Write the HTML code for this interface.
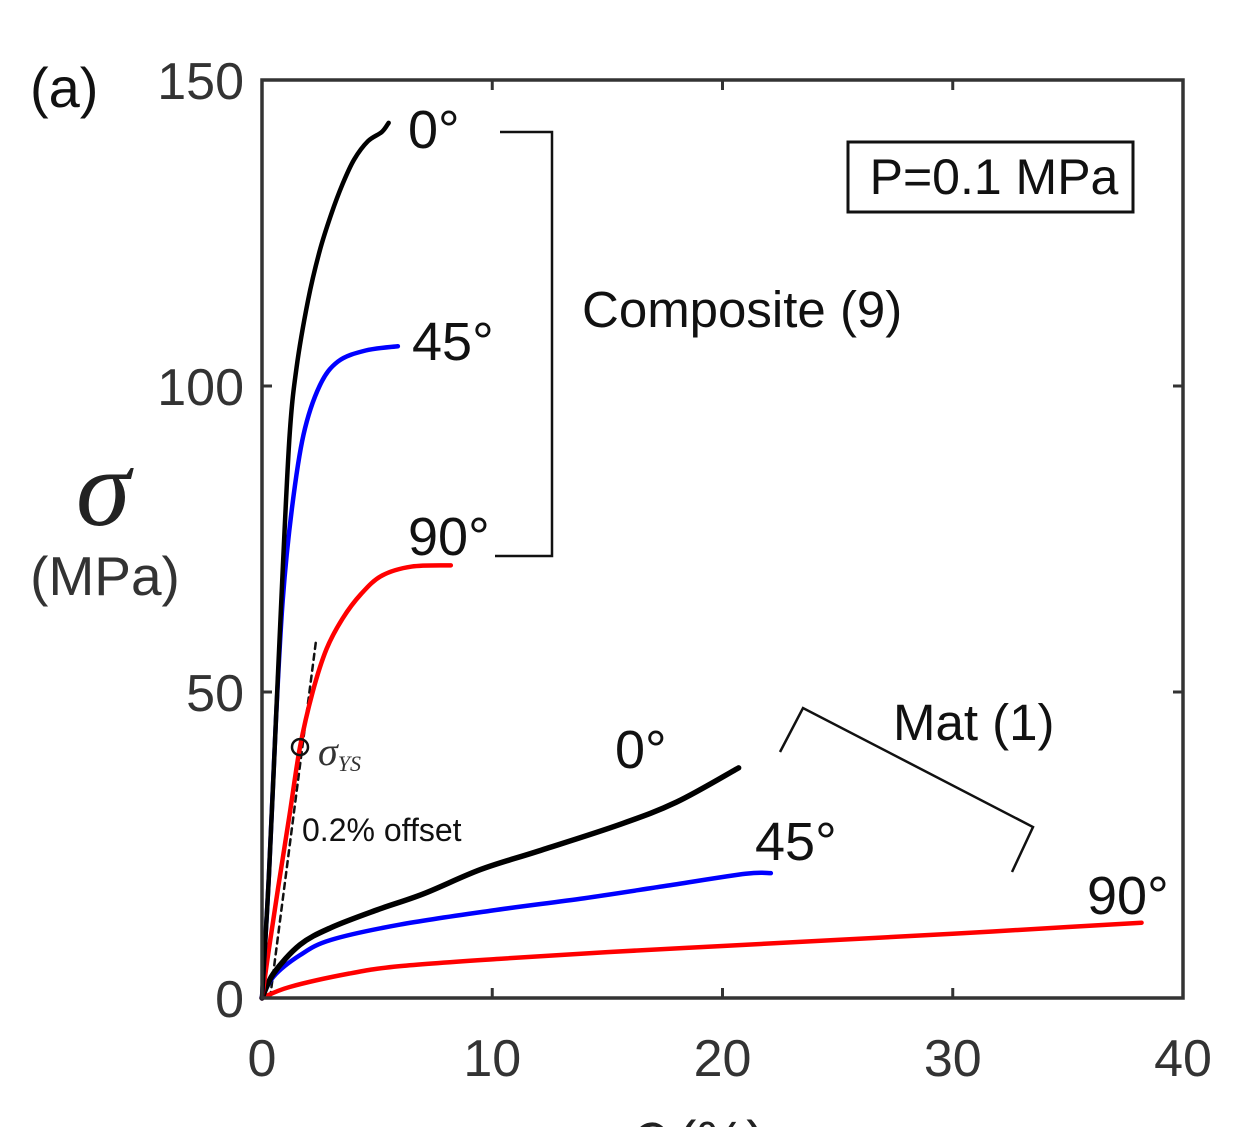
<!DOCTYPE html>
<html><head><meta charset="utf-8"><style>
body{margin:0;background:#fff}
svg{display:block;font-family:"Liberation Sans",sans-serif}
</style></head><body>
<svg id="chart" width="1235" height="1127" viewBox="0 0 1235 1127" xmlns="http://www.w3.org/2000/svg">
<g id="marks"></g>
<rect x="262" y="80" width="921" height="918" fill="none" stroke="#333" stroke-width="3.5"/>
<g id="ticks"></g>
<text x="30" y="107" font-size="56" fill="#111">(a)</text>
<text x="76" y="525" font-size="110" font-style="italic" font-family="Liberation Serif,serif" fill="#222">σ</text>
<text x="105" y="595" font-size="55" text-anchor="middle" fill="#333">(MPa)</text>
<text x="630" y="1160" font-size="56" fill="#222"><tspan font-style="italic" font-family="Liberation Serif,serif" font-size="80">ϵ</tspan> (%)</text>
<rect x="848" y="142" width="285" height="70" fill="#fff" stroke="#111" stroke-width="3"/>
<text x="994" y="194" font-size="50" text-anchor="middle" fill="#111">P=0.1 MPa</text>
<polyline points="500,132 552,132 552,556 495,556" fill="none" stroke="#111" stroke-width="2.5"/>
<text x="582" y="327" font-size="51" fill="#111">Composite (9)</text>
<polyline points="780,752 803,708 1033,827 1012,872" fill="none" stroke="#111" stroke-width="2.5"/>
<text x="893" y="740" font-size="51" fill="#111">Mat (1)</text>
<text x="408" y="148" font-size="54" fill="#111">0°</text>
<text x="412" y="360" font-size="54" fill="#111">45°</text>
<text x="408" y="555" font-size="54" fill="#111">90°</text>
<text x="615" y="768" font-size="54" fill="#111">0°</text>
<text x="755" y="860" font-size="54" fill="#111">45°</text>
<text x="1087" y="914" font-size="54" fill="#111">90°</text>
<text x="318" y="765" font-size="40" font-style="italic" font-family="Liberation Serif,serif" fill="#333">σ<tspan font-size="22" dy="6">YS</tspan></text>
<text x="302" y="841" font-size="32" fill="#111">0.2% offset</text>
</svg>
<script>
const xTicks=[0,10,20,30,40];
const yTicks=[0,50,100,150];
const comp0=[[0,0],[0.3,20],[0.6,45],[0.9,70],[1.2,92],[1.5,103],[2,114],[2.5,122],[3,128],[3.5,133],[4,137],[4.6,140],[5.2,141.5],[5.5,143]];
const comp45=[[0,0],[0.3,20],[0.6,45],[0.9,65],[1.3,80],[1.8,92],[2.5,100],[3.3,104],[4.5,105.8],[5.9,106.5]];
const comp90=[[0,0],[0.3,8],[0.7,18],[1.2,30],[1.65,41],[2.2,50],[2.8,57],[3.5,62],[4.3,66],[5.2,69],[6.5,70.5],[8.2,70.7]];
const mat0=[[0,0],[0.5,4],[1.65,8.7],[3,11.5],[5,14.4],[7,17],[9.5,21],[12,24],[15.5,28.3],[18,32],[20.7,37.6]];
const mat45=[[0,0],[0.5,3.5],[1.65,7],[3,9.5],[6,12],[10,14.3],[14,16.3],[17.5,18.3],[21,20.3],[22.1,20.4]];
const mat90=[[0,0],[1.2,1.8],[3.8,4],[6,5.2],[10.3,6.4],[15,7.5],[20,8.5],[25,9.5],[30,10.5],[35,11.6],[38.2,12.3]];
const offsetLine=[[0.35,0],[2.35,58.5]];
const yieldPoint=[1.65,41];
const X=v=>262+v*921/40, Y=v=>998-v*918/150;
const NS="http://www.w3.org/2000/svg";
const marks=document.getElementById('marks'), ticks=document.getElementById('ticks');
function mk(t,a,p){const e=document.createElementNS(NS,t);for(const k in a)e.setAttribute(k,a[k]);p.appendChild(e);return e;}
function smooth(d){const p=d.map(q=>[X(q[0]),Y(q[1])]);let s='M'+p[0][0]+','+p[0][1];
for(let i=0;i<p.length-1;i++){const a=p[i-1]||p[i],b=p[i],c=p[i+1],e=p[i+2]||c;
s+=' C'+(b[0]+(c[0]-a[0])/6)+','+(b[1]+(c[1]-a[1])/6)+' '+(c[0]-(e[0]-b[0])/6)+','+(c[1]-(e[1]-b[1])/6)+' '+c[0]+','+c[1];}return s;}
function line(d,c,n,w,dash){const e=mk('path',{d:dash?'M'+X(d[0][0])+','+Y(d[0][1])+' L'+X(d[1][0])+','+Y(d[1][1]):smooth(d),fill:'none',stroke:c,'stroke-width':w||4.5,'stroke-linejoin':'round','stroke-linecap':'round','stroke-dasharray':dash||'none'},marks);

}
line(offsetLine,'#111','offset-line',2.5,'6 5');
line(mat90,'#f00','mat-90-curve');line(mat45,'#00f','mat-45-curve');line(mat0,'#000','mat-0-curve',5.5);
line(comp90,'#f00','composite-90-curve');line(comp45,'#00f','composite-45-curve');line(comp0,'#000','composite-0-curve');
const c=mk('circle',{cx:X(yieldPoint[0]),cy:Y(yieldPoint[1]),r:8,fill:'none',stroke:'#111','stroke-width':2.5},marks);


xTicks.forEach(v=>{mk('line',{x1:X(v),x2:X(v),y1:998,y2:988,stroke:'#333','stroke-width':3},ticks);mk('line',{x1:X(v),x2:X(v),y1:80,y2:90,stroke:'#333','stroke-width':3},ticks);
const t=mk('text',{x:X(v),y:1076,'font-size':52,'text-anchor':'middle',fill:'#333'},ticks);t.textContent=v;

});
yTicks.forEach(v=>{mk('line',{x1:262,x2:272,y1:Y(v),y2:Y(v),stroke:'#333','stroke-width':3},ticks);mk('line',{x1:1173,x2:1183,y1:Y(v),y2:Y(v),stroke:'#333','stroke-width':3},ticks);
const t=mk('text',{x:244,y:Y(v)+19,'font-size':52,'text-anchor':'end',fill:'#333'},ticks);t.textContent=v;

});
</script>
</body></html>
